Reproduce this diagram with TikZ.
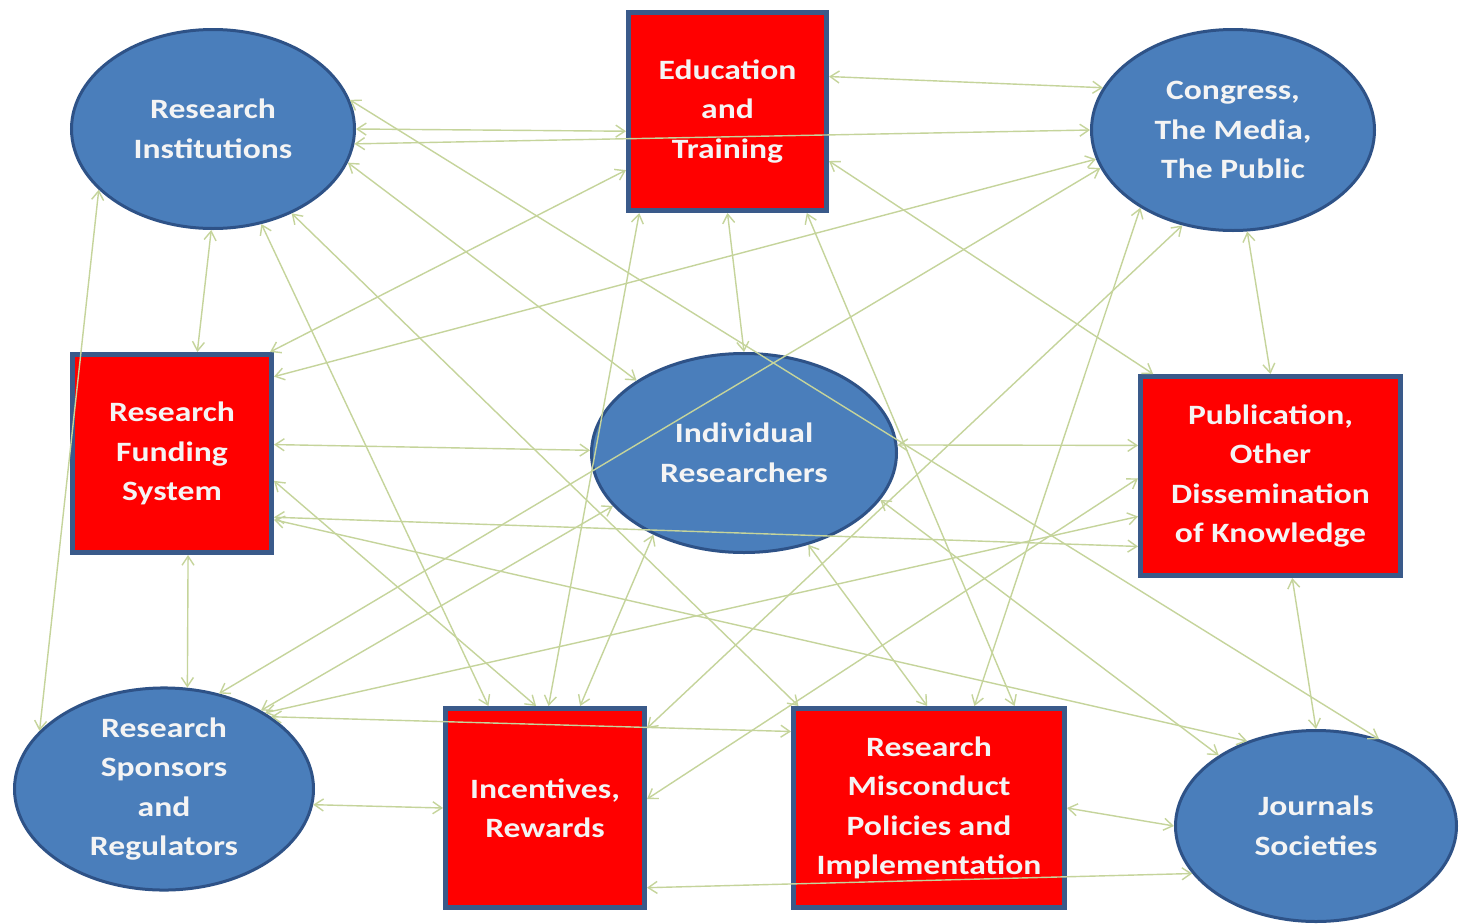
\documentclass[tikz,border=0pt]{standalone}
\usepackage{fontspec}
\newfontfamily\lblfont{Carlito}[FakeStretch=1.2]
\usetikzlibrary{shapes.geometric,arrows.meta}
\definecolor{ovalfill}{HTML}{4A7EBB}
\definecolor{ovaldraw}{HTML}{2E5287}
\definecolor{boxfill}{HTML}{FF0000}
\definecolor{boxdraw}{HTML}{3A5A8A}
\definecolor{linkc}{HTML}{C5D49B}
\definecolor{txtc}{HTML}{F4F4F4}
\begin{document}
\begin{tikzpicture}[x=1pt,y=-1pt,
  lbl/.style={text=txtc,font=\lblfont\bfseries\fontsize{28}{39.5}\selectfont,align=center,inner sep=0pt},
  oval/.style={lbl,ellipse,fill=ovalfill,draw=ovaldraw,line width=3pt},
  box/.style={lbl,rectangle,fill=boxfill,draw=boxdraw,line width=5pt},
  link/.style={draw=linkc,line width=1.4pt,>={Straight Barb[length=9pt,width=12pt]},<->}]
\fill[white] (0,0) rectangle (1460,924);
\useasboundingbox (0,0) rectangle (1460,924);
% nodes
\node[oval,minimum width=283pt,minimum height=199pt] (RI) at (213,129) {Research\\Institutions};
\node[box,minimum width=198pt,minimum height=198pt] (ET) at (727.5,111.5) {Education\\and\\Training};
\node[oval,minimum width=283pt,minimum height=201pt] (CM) at (1233,130) {Congress,\\The Media,\\The Public};
\node[box,minimum width=199pt,minimum height=198pt] (RF) at (172,453.5) {Research\\Funding\\System};
\node[oval,minimum width=305pt,minimum height=199pt] (IR) at (744,453) {Individual\\Researchers};
\node[box,minimum width=260pt,minimum height=199pt] (PB) at (1270.5,476) {Publication,\\Other\\Dissemination\\of Knowledge};
\node[oval,minimum width=299pt,minimum height=199pt] (RS) at (164,789) {Research\\Sponsors\\and\\Regulators};
\node[box,minimum width=199pt,minimum height=199pt] (IN) at (545,808) {Incentives,\\Rewards};
\node[box,minimum width=271pt,minimum height=199pt] (RM) at (929,808) {Research\\Misconduct\\Policies and\\Implementation};
\node[oval,minimum width=281pt,minimum height=191pt] (JS) at (1316,826) {Journals\\Societies};
% connectors
\draw[link] (RI.0) -- (ET.-169);
\draw[link] (RI.-6) -- (CM.180);
\draw[link] (ET.19) -- (CM.162);
\draw[link] (RI.-91) -- (RF.76);
\draw[link] (RI.-152) -- (RS.155);
\draw[link] (RI.-63) -- (IN.119);
\draw[link] (RI.-47) -- (RM.142);
\draw[link] (RI.-14) -- (IR.146);
\draw[link] (RI.12) -- (JS.54);
\draw[link] (ET.-90) -- (IR.90);
\draw[link] (ET.-26) -- (PB.139);
\draw[link] (ET.-150) -- (RF.46);
\draw[link] (ET.-131) -- (IN.88);
\draw[link] (ET.-52) -- (RM.50);
\draw[link] (CM.-82) -- (PB.90);
\draw[link] (CM.-140) -- (RM.66);
\draw[link] (CM.-118) -- (IN.38);
\draw[link] (CM.-168) -- (RF.37);
\draw[link] (CM.-164) -- (RS.60);
\draw[link] (IR.3) -- (PB.167);
\draw[link] (IN.5) -- (PB.-179);
\draw[link] (RS.37) -- (PB.-163);
\draw[link] (RF.-32) -- (PB.-152);
\draw[link] (RF.5) -- (IR.179);
\draw[link] (RF.-15) -- (IN.95);
\draw[link] (RF.-33) -- (JS.129);
\draw[link] (RF.-81) -- (RS.77);
\draw[link] (IR.-138) -- (IN.71);
\draw[link] (IR.-19) -- (JS.144);
\draw[link] (IR.-55) -- (RM.91);
\draw[link] (RS.39) -- (IR.-158);
\draw[link] (RS.34) -- (RM.151);
\draw[link] (RS.-6) -- (IN.180);
\draw[link] (IN.-38) -- (JS.-159);
\draw[link] (RM.0) -- (JS.180);
\draw[link] (PB.-78) -- (JS.90);
\end{tikzpicture}
\end{document}
